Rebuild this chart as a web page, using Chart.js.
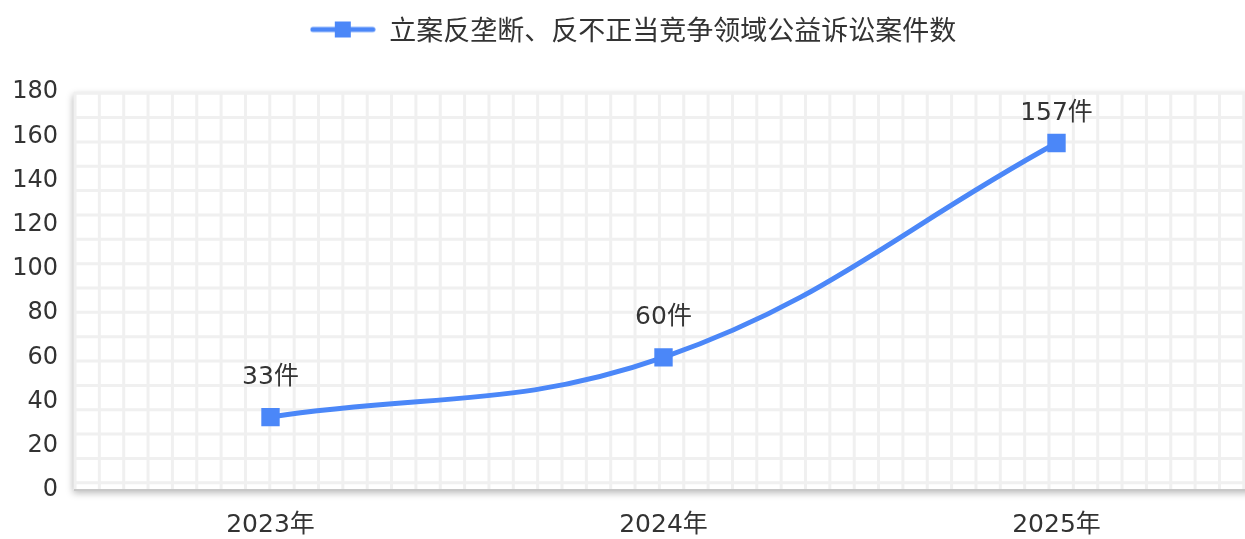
<!DOCTYPE html>
<html>
<head>
<meta charset="utf-8">
<script src="https://cdn.jsdelivr.net/npm/chart.js@4.4.1/dist/chart.umd.min.js"></script>
<style>
    html, body { margin: 0; padding: 0; background: #fff; overflow: hidden; }
    #wrap { position: relative; width: 1266px; height: 539px; }
</style>
</head>
<body>
<div id="wrap"><canvas id="caseChart"></canvas></div>
<script>
const years = ["2023年", "2024年", "2025年"];
const caseCounts = [33, 60, 157];
const valueLabels = ["33件", "60件", "157件"];
const seriesName = "立案反垄断、反不正当竞争领域公益诉讼案件数";
const yTicks = [0, 20, 40, 60, 80, 100, 120, 140, 160, 180];

const lineColor = "#4b87f8";
const textColor = "#333333";
const fontFamily = "'DejaVu Sans', 'Noto Sans CJK SC', sans-serif";
const cjkFamily = "'Noto Sans CJK SC', sans-serif";

// legend symbol: line with a square in the middle
function legendSymbol() {
    const c = document.createElement("canvas");
    c.width = 66;
    c.height = 18;
    const g = c.getContext("2d");
    g.strokeStyle = lineColor;
    g.lineWidth = 5;
    g.lineCap = "round";
    g.beginPath();
    g.moveTo(3, 9);
    g.lineTo(63, 9);
    g.stroke();
    g.fillStyle = lineColor;
    g.fillRect(25, 1, 16, 16);
    return c;
}

const paperGrid = {
    id: "paperGrid",
    beforeDraw(chart) {
        const { ctx, chartArea } = chart;
        const { left, top, right, bottom } = chartArea;
        ctx.save();
        ctx.shadowColor = "rgba(0,0,0,0.28)";
        ctx.shadowBlur = 7;
        ctx.shadowOffsetY = 3;
        ctx.shadowOffsetX = -1;
        ctx.fillStyle = "#ffffff";
        ctx.fillRect(left, top, right - left + 20, bottom - top);
        ctx.restore();

        ctx.save();
        ctx.strokeStyle = "#f0f0f0";
        ctx.lineWidth = 3;
        const step = 24.35;
        ctx.beginPath();
        for (let x = left + 1; x <= right + 10; x += step) {
            ctx.moveTo(x, top);
            ctx.lineTo(x, bottom);
        }
        for (let y = top + 1; y <= bottom; y += step) {
            ctx.moveTo(left, y);
            ctx.lineTo(right + 10, y);
        }
        ctx.stroke();
        ctx.strokeStyle = "#c8c8c8";
        ctx.lineWidth = 2;
        ctx.beginPath();
        ctx.moveTo(left, bottom);
        ctx.lineTo(right + 10, bottom);
        ctx.stroke();
        ctx.restore();
    },
};

const pointLabels = {
    id: "pointLabels",
    afterDatasetsDraw(chart) {
        const { ctx } = chart;
        const meta = chart.getDatasetMeta(0);
        ctx.save();
        ctx.fillStyle = textColor;
        ctx.font = `25px ${fontFamily}`;
        ctx.textAlign = "center";
        ctx.textBaseline = "middle";
        meta.data.forEach((pt, i) => {
            const off = i === 2 ? 30 : 40;
            ctx.fillText(valueLabels[i], pt.x, pt.y - off);
        });
        ctx.restore();
    },
};

new Chart(document.getElementById("caseChart"), {
    type: "line",
    data: {
        labels: years,
        datasets: [
            {
                label: seriesName,
                data: caseCounts,
                borderColor: lineColor,
                backgroundColor: lineColor,
                borderWidth: 5,
                tension: 0.4,
                pointStyle: "rect",
                pointRadius: 13,
                pointHoverRadius: 13,
                pointBorderWidth: 0,
            },
        ],
    },
    options: {
        responsive: true,
        maintainAspectRatio: false,
        animation: false,
        layout: { padding: { top: 0, right: 0, left: 0, bottom: 0 } },
        plugins: {
            legend: {
                display: true,
                position: "top",
                labels: {
                    color: textColor,
                    font: { family: cjkFamily, size: 27 },
                    usePointStyle: true,
                    pointStyle: legendSymbol(),
                    pointStyleWidth: 66,
                    padding: 16,
                },
            },
            // empty spacer between legend and plot
            subtitle: {
                display: true,
                text: "",
                weight: 500,
                font: { size: 1 },
                padding: { top: 0, bottom: 38 },
            },
            tooltip: { enabled: false },
        },
        scales: {
            x: {
                offset: true,
                grid: { display: false },
                border: { display: false },
                ticks: {
                    color: textColor,
                    font: { family: fontFamily, size: 25 },
                    padding: 12,
                },
                afterFit(scale) {
                    scale.height = 49;
                },
            },
            y: {
                min: 0,
                max: 180,
                afterBuildTicks(scale) {
                    scale.ticks = yTicks.map((v) => ({ value: v }));
                },
                grid: { display: false },
                border: { display: false },
                ticks: {
                    color: textColor,
                    font: { family: fontFamily, size: 24 },
                    padding: 8,
                },
                afterFit(scale) {
                    scale.width = 74;
                },
            },
        },
    },
    plugins: [paperGrid, pointLabels],
});
</script>
</body>
</html>
